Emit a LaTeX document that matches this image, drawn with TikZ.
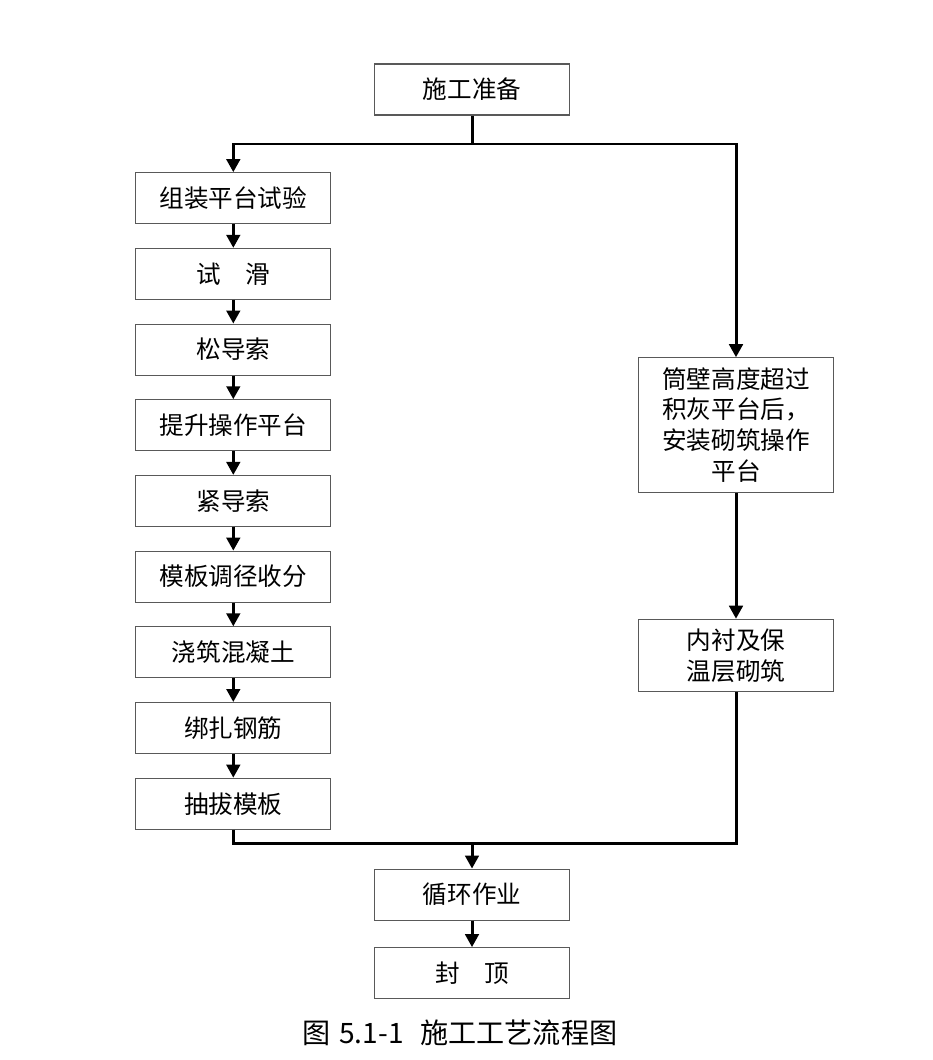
\documentclass[tikz,border=0pt]{standalone}
\usepackage{fontspec}
\setmainfont{Noto Sans CJK SC}
\usetikzlibrary{arrows.meta,positioning}

\tikzset{
	StepBox/.style = {rectangle, draw=black!65, line width=0.6pt, minimum width=3.9cm,
		minimum height=1.02cm, align=center, font=\fontsize{14pt}{17.6pt}\selectfont},
	FlowLine/.style = {line width=1.7pt},
	FlowArrow/.style = {FlowLine, -{Triangle[length=0.26cm,width=0.27cm]}}
}

\begin{document}
\begin{tikzpicture}[x=0.02cm, y=-0.02cm, node distance=0.473cm]
	\useasboundingbox (0,0) rectangle (932,1060);
	\node[StepBox] (prep) at (472,89.5) {施工准备};
	% left column
	\node[StepBox] (s1) at (233.3,198.2) {组装平台试验};
	\node[StepBox, below=of s1] (s2) {试\hspace{1em}滑};
	\node[StepBox, below=of s2] (s3) {松导索};
	\node[StepBox, below=of s3] (s4) {提升操作平台};
	\node[StepBox, below=of s4] (s5) {紧导索};
	\node[StepBox, below=of s5] (s6) {模板调径收分};
	\node[StepBox, below=of s6] (s7) {浇筑混凝土};
	\node[StepBox, below=of s7] (s8) {绑扎钢筋};
	\node[StepBox, below=of s8] (s9) {抽拔模板};
	% right column
	\node[StepBox, minimum height=2.69cm] (wall) at (736,425)
		{筒壁高度超过\\积灰平台后，\\安装砌筑操作\\平台};
	\node[StepBox, minimum height=1.45cm] (lining) at (736,655.5)
		{内衬及保\\温层砌筑};
	% bottom
	\node[StepBox] (cycle) at (472,894.6) {循环作业};
	\node[StepBox, below=0.53cm of cycle] (roof) {封\hspace{1em}顶};
	\node (caption) at (460,1033)
		{\fontsize{16pt}{18pt}\selectfont 图\hspace{0.3em}5.1-1\hspace{0.6em}施工工艺流程图};

	\coordinate (split) at (472,144);
	\coordinate (merge) at (472,843.5);
	\draw[FlowLine] (prep) -- (split);
	\draw[FlowArrow] (split) -| (s1);
	\draw[FlowArrow] (split) -| (wall);
	\foreach \a/\b in {s1/s2,s2/s3,s3/s4,s4/s5,s5/s6,s6/s7,s7/s8,s8/s9}
		\draw[FlowArrow] (\a) -- (\b);
	\draw[FlowArrow] (wall) -- (lining);
	\draw[FlowLine] (s9) |- (merge);
	\draw[FlowLine] (lining) |- (merge);
	\draw[FlowArrow] (merge) -- (cycle);
	\draw[FlowArrow] (cycle) -- (roof);
\end{tikzpicture}
\end{document}
